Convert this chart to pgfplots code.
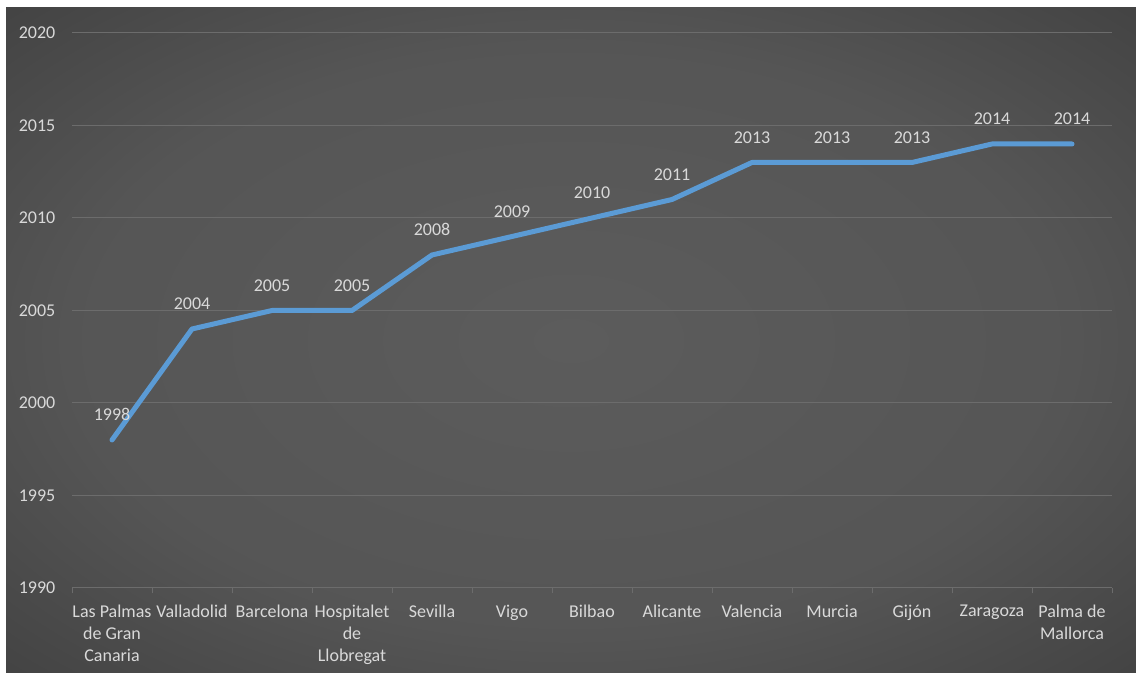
\documentclass[border=0pt]{standalone}
\usepackage{pgfplots}
\pgfplotsset{compat=1.18}
\usepackage{fontspec}
\setmainfont{Carlito}
\definecolor{bgc}{RGB}{92,92,92}
\definecolor{bgm}{RGB}{48,48,48}
\definecolor{bgo}{RGB}{30,30,30}
\definecolor{gridc}{RGB}{108,108,108}
\definecolor{txt}{RGB}{217,217,217}
\definecolor{lineblue}{RGB}{91,155,213}
\pgfdeclareradialshading{bgshade}{\pgfpoint{0bp}{0bp}}{color(0bp)=(bgc); color(22bp)=(bgc!85!bgm); color(50bp)=(bgm); color(72bp)=(bgo)}
\begin{document}
\begin{tikzpicture}
\fill[white] (0,0) rectangle (852pt,504.75pt);
\shade[shading=bgshade] (4.5pt,0) rectangle (852pt,498.75pt);
\begin{axis}[
  at={(54pt,63.75pt)}, anchor=south west,
  scale only axis, width=780pt, height=416.25pt,
  xmin=-0.5, xmax=12.5, ymin=1990, ymax=2020,
  xtick={0,...,12},
  xticklabels={{Las Palmas\\de Gran\\Canaria},Valladolid,Barcelona,{Hospitalet\\de\\Llobregat},Sevilla,Vigo,Bilbao,Alicante,Valencia,Murcia,Gijón,Zaragoza,{Palma de\\Mallorca}},
  minor xtick={-0.5,0.5,...,12.5},
  ytick={1990,1995,...,2020},
  xtick pos=left, ytick pos=left,
  major tick length=0pt, minor tick length=4pt, tick align=outside,
  tick style={color=gridc, line width=0.75pt},
  axis line style={draw=none},
  ymajorgrids, grid style={color=gridc, line width=0.75pt},
  /pgf/number format/assume math mode=true,
  /pgf/number format/1000 sep={},
  yticklabel style={font=\fontsize{13.5pt}{16.5pt}\selectfont, text=txt, xshift=-9pt},
  xticklabel style={font=\fontsize{13.5pt}{16.5pt}\selectfont, text=txt, align=center, yshift=-9pt},
  clip=false,
]
\addplot[color=lineblue, line width=3.75pt, line cap=round, line join=round,
  nodes near coords, point meta=explicit symbolic,
  every node near coord/.append style={font=\fontsize{13.5pt}{16pt}\selectfont, text=txt, anchor=south, yshift=9pt}]
  table[meta=label] {
x y label
0 1998 1998
1 2004 2004
2 2005 2005
3 2005 2005
4 2008 2008
5 2009 2009
6 2010 2010
7 2011 2011
8 2013 2013
9 2013 2013
10 2013 2013
11 2014 2014
12 2014 2014
};
\end{axis}
\end{tikzpicture}
\end{document}
